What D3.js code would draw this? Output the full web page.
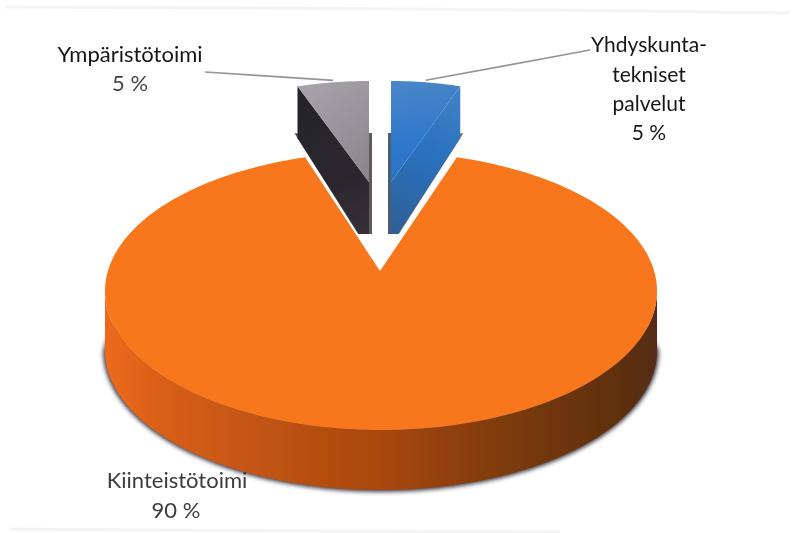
<!DOCTYPE html>
<html><head><meta charset="utf-8">
<script src="https://cdn.jsdelivr.net/npm/d3@7"></script>
<style>html,body{margin:0;background:#fff}svg{display:block}text{font-family:Lato,"Open Sans",sans-serif}</style>
</head><body><svg id="c" width="795" height="533"></svg>
<script>
const categories = ["Yhdyskuntatekniset palvelut", "Kiinteistötoimi", "Ympäristötoimi"];
const values = [5, 90, 5];
const percentLabels = ["5 %", "90 %", "5 %"];
const labelLines = [["Yhdyskunta-", "tekniset", "palvelut"], ["Kiinteistötoimi"], ["Ympäristötoimi"]];

const svg = d3.select("#c");
const defs = svg.append("defs");
const blur = (id, s) => defs.append("filter").attr("id", id)
  .attr("x", "-10%").attr("y", "-10%").attr("width", "120%").attr("height", "120%")
  .append("feGaussianBlur").attr("stdDeviation", s);
blur("soft", 0.7); blur("shadow", 2.2); blur("txt", 0.3);
const grad = (id, p, stops) => {
  const g = defs.append("linearGradient").attr("id", id).attr("gradientUnits", "userSpaceOnUse")
    .attr("x1", p[0]).attr("y1", p[1]).attr("x2", p[2]).attr("y2", p[3]);
  stops.forEach(s => g.append("stop").attr("offset", s[0]).attr("stop-color", s[1]));
};
grad("side", [104, 0, 657, 0], [[0, "#ee6a1c"], [0.1, "#d95f18"], [0.28, "#c25412"], [0.5, "#a94710"], [0.68, "#853d10"], [0.85, "#6a3410"], [1, "#552c12"]]);
grad("grayTop", [300, 85, 368, 170], [[0, "#a9a4ac"], [1, "#8b878d"]]);
grad("graySide", [296, 90, 368, 235], [[0, "#26242b"], [0.6, "#2b262e"], [1, "#35303a"]]);
grad("blueTop", [400, 82, 420, 190], [[0, "#4a86c8"], [0.55, "#2f78cc"], [1, "#2a6fc0"]]);
grad("blueSide", [460, 95, 395, 235], [[0, "#4080c4"], [0.4, "#2b72c0"], [1, "#2e5f96"]]);

const pie = d3.pie().sort(null).value(d => d)(values);

// foreshortened ellipse projection of the pie angle
const FORE = 0.88;
const warp = a => {
  const t = ((a % (2 * Math.PI)) + 2 * Math.PI) % (2 * Math.PI);
  const turns = Math.round(t / Math.PI);
  return Math.abs(t - turns * Math.PI) < 1e-9 ? t
    : turns * Math.PI + Math.atan(Math.tan(t - turns * Math.PI) * FORE);
};
const rim = (g, a, dy = 0) => {
  const w = warp(a);
  return [g.cx + g.rx * Math.sin(w), g.cy - g.ry * Math.cos(w) + dy];
};
const arcPts = (g, a0, a1, dy = 0) => {
  const n = Math.max(2, Math.ceil(Math.abs(a1 - a0) / 0.02));
  return d3.range(n + 1).map(i => rim(g, a0 + (a1 - a0) * i / n, dy));
};
const line = d3.line().curve(d3.curveLinear);
const closed = pts => line(pts) + "Z";

// geometry per slice: ellipse centre, radii, apex, extrusion depth
const geom = [
  { cx: 391, cy: 220, rx: 252, ry: 139, apex: [391, 182], depth: 52 },
  { cx: 381, cy: 291, rx: 276, ry: 139, apex: [380, 271], depth: 60 },
  { cx: 369, cy: 220, rx: 260, ry: 139, apex: [369, 182], depth: 52 }
];

// faint scan streaks along the page edges
const streaks = [[[5, 7], [260, 8], [560, 10], [790, 13]], [[10, 529], [300, 531], [560, 532]]];
svg.append("g").attr("filter", "url(#soft)").selectAll("path").data(streaks).join("path")
  .attr("d", d => line(d)).attr("fill", "none").attr("stroke", "#f4f4f4").attr("stroke-width", 3);

const chart = svg.append("g");

// big slice
const gB = geom[1], sB = pie[1];
const front = arcPts(gB, Math.PI / 2, 3 * Math.PI / 2);
const sidePts = front.concat(front.map(p => [p[0], p[1] + gB.depth]).reverse());
const shadowTop = arcPts(gB, Math.PI * 0.58, Math.PI * 1.43);
const shadowPts = shadowTop.concat(arcPts(gB, Math.PI * 1.5, Math.PI * 0.5, gB.depth));
chart.append("path").attr("d", closed(shadowPts)).attr("fill", "#3a3440")
  .attr("stroke", "#3a3440").attr("stroke-width", 3.5).attr("filter", "url(#shadow)");
chart.append("path").attr("d", closed(sidePts)).attr("fill", "url(#side)").attr("filter", "url(#soft)");
chart.append("path")
  .attr("d", closed([gB.apex].concat(arcPts(gB, sB.startAngle, sB.endAngle))))
  .attr("fill", "#f8761b").attr("filter", "url(#soft)");

// small slices
const styles = {
  0: { top: "url(#blueTop)", side: "url(#blueSide)", strip: "#4a5d70", flange: "#8a6f5c", dir: -1, inner: "startAngle", outer: "endAngle", spread: 7 },
  2: { top: "url(#grayTop)", side: "url(#graySide)", strip: "#5f595c", flange: "#55504f", dir: 1, inner: "endAngle", outer: "startAngle", spread: 10 }
};
[0, 2].forEach(i => {
  const g = geom[i], s = pie[i], st = styles[i], d = g.depth;
  const layer = chart.append("g").attr("filter", "url(#soft)");
  const outerTop = rim(g, s[st.outer]);
  const innerTop = rim(g, s[st.inner]);
  const apexLow = [g.apex[0], g.apex[1] + d];
  const apexWide = [g.apex[0] - st.dir * st.spread, apexLow[1]];
  const shift = -st.dir * 3;
  // cast shadow behind the cut face
  layer.append("path").attr("d", closed([
    [outerTop[0] + shift, outerTop[1] + d - 5], [outerTop[0], outerTop[1] + d - 5],
    apexLow, [apexWide[0] + shift * 0.3, apexWide[1]]
  ])).attr("fill", st.flange);
  // inner strip
  layer.append("path").attr("d", closed([
    [innerTop[0], innerTop[1] + d], [innerTop[0] + st.dir * 3, innerTop[1] + d],
    [apexLow[0] + st.dir * 3, apexLow[1]], apexLow
  ])).attr("fill", st.strip);
  // cut face
  layer.append("path").attr("d", closed([outerTop, [outerTop[0], outerTop[1] + d], apexWide, apexLow, g.apex]))
    .attr("fill", st.side);
  // inner wall under the top face
  layer.append("path").attr("d", closed(
    [g.apex, innerTop, [innerTop[0], innerTop[1] + d], apexLow])).attr("fill", st.side);
  // top face
  layer.append("path").attr("d", closed([g.apex].concat(arcPts(g, s.startAngle, s.endAngle))))
    .attr("fill", st.top);
});

// leader lines
const mid = s => (s.startAngle + s.endAngle) / 2;
const leaders = [
  { from: [590, 50], to: rim(geom[0], mid(pie[0])) },
  { from: [205, 72], to: rim(geom[2], mid(pie[2])) }
];
svg.append("g").attr("filter", "url(#txt)").selectAll("line").data(leaders).join("line")
  .attr("x1", d => d.from[0]).attr("y1", d => d.from[1])
  .attr("x2", d => d.to[0]).attr("y2", d => d.to[1] - 2)
  .attr("stroke", "#949494").attr("stroke-width", 1.6);

// labels
const labelPos = [
  { x: 649, ys: [52, 82, 111], py: 140, px: 649, fill: "#161616", size: 21 },
  { x: 177, ys: [488], py: 518, px: 176, fill: "#3c3c3c", size: 22 },
  { x: 130, ys: [62], py: 91, px: 130, fill: "#161616", size: 22 }
];
const tg = svg.append("g").attr("filter", "url(#txt)").attr("text-anchor", "middle");
labelLines.forEach((lines, i) => {
  const p = labelPos[i];
  lines.forEach((t, k) => tg.append("text").attr("x", p.x).attr("y", p.ys[k])
    .attr("font-size", p.size).attr("fill", p.fill).text(t));
  tg.append("text").attr("x", p.px).attr("y", p.py).attr("font-size", p.size)
    .attr("fill", i === 2 ? "#444" : p.fill).text(percentLabels[i]);
});
</script></body></html>
